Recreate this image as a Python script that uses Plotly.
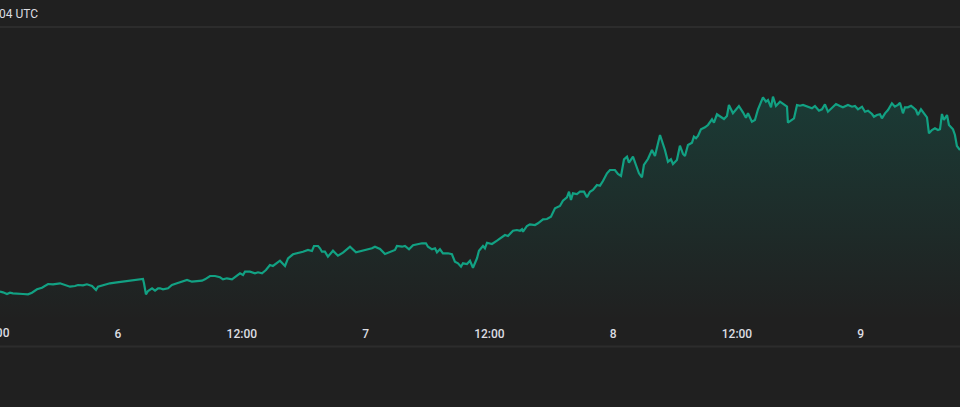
import pandas as pd
import plotly.graph_objects as go

# ---- data ----
# hours elapsed since day 5, 00:00 UTC
hours = [
    12.56, 12.85, 13.24, 13.53, 13.82, 14.31, 14.79, 15.28, 15.66, 16.15,
    16.63, 17.22, 17.70, 18.38, 18.86, 19.35, 19.83, 20.12, 20.61, 20.99,
    21.48, 21.87, 22.06, 22.55, 23.22, 23.90, 24.39, 24.87, 25.36, 25.84,
    26.42, 26.52, 26.71, 26.91, 27.30, 27.59, 27.88, 28.07, 28.36, 28.85,
    29.23, 29.72, 30.20, 30.69, 31.17, 31.66, 32.14, 32.43, 32.92, 33.40,
    33.89, 34.18, 34.56, 35.05, 35.53, 35.83, 36.12, 36.31, 36.79, 37.28,
    37.57, 37.96, 38.34, 38.73, 39.02, 39.41, 39.70, 40.19, 40.48, 40.96,
    41.45, 41.93, 42.42, 42.80, 43.00, 43.39, 43.58, 43.77, 44.06, 44.35,
    44.84, 45.32, 45.81, 46.49, 47.07, 47.65, 48.14, 48.62, 48.91, 49.40,
    49.88, 50.36, 50.85, 51.04, 51.53, 51.82, 52.21, 52.60, 52.98, 53.47,
    53.85, 54.05, 54.44, 54.73, 54.92, 55.21, 55.50, 55.99, 56.37, 56.66,
    56.96, 57.25, 57.44, 57.83, 58.12, 58.41, 58.80, 58.99, 59.38, 59.57,
    59.77, 60.25, 60.74, 61.22, 61.51, 61.80, 62.29, 62.67, 62.97, 63.16,
    63.26, 63.64, 63.93, 64.42, 64.71, 65.20, 65.58, 65.97, 66.36, 66.84,
    67.13, 67.52, 67.72, 67.91, 68.10, 68.49, 68.78, 69.17, 69.46, 69.75,
    70.04, 70.43, 70.72, 71.01, 71.40, 71.69, 72.17, 72.46, 72.76, 73.05,
    73.34, 73.53, 73.92, 74.21, 74.50, 74.79, 74.98, 75.37, 75.76, 76.05,
    76.54, 77.02, 77.31, 77.60, 77.80, 78.18, 78.47, 78.77, 78.96, 79.25,
    79.64, 79.83, 80.03, 80.22, 80.51, 80.90, 81.19, 81.58, 81.77, 82.06,
    82.45, 82.74, 83.03, 83.22, 83.61, 83.90, 84.19, 84.58, 84.87, 85.07,
    85.45, 85.74, 86.04, 86.52, 86.81, 87.01, 87.30, 87.49, 87.78, 88.17,
    88.46, 88.85, 88.94, 89.33, 89.53, 89.82, 90.11, 90.40, 90.88, 91.27,
    91.56, 91.95, 92.24, 92.53, 92.82, 93.21, 93.60, 93.98, 94.27, 94.76,
    95.15, 95.44, 95.73, 96.12, 96.41, 96.70, 97.09, 97.28, 97.57, 97.86,
    98.05, 98.35, 98.64, 99.02, 99.31, 99.60, 99.80, 100.09, 100.28, 100.57,
    100.87, 101.06, 101.35, 101.54, 101.84, 102.13, 102.42, 102.61, 102.90, 103.19,
    103.48, 103.68, 103.87, 104.06, 104.36, 104.55, 104.94, 105.13, 105.32, 105.62,
]
values = [
    28.3, 27.7, 26.0, 27.3, 26.7, 26.7, 26.0, 25.7, 27.3, 30.7,
    32.3, 36.0, 35.7, 36.7, 35.3, 33.3, 34.0, 35.0, 34.7, 35.7,
    34.0, 30.0, 33.3, 35.0, 36.7, 37.7, 38.3, 39.0, 39.3, 40.0,
    41.0, 36.7, 25.7, 29.0, 31.7, 29.3, 31.7, 31.7, 30.7, 31.7,
    35.0, 36.7, 38.3, 40.0, 38.3, 39.0, 39.3, 40.7, 44.0, 44.0,
    42.7, 40.7, 41.7, 40.7, 44.0, 46.7, 45.0, 48.3, 48.3, 46.7,
    47.7, 46.7, 50.0, 55.0, 54.0, 56.7, 59.3, 54.0, 61.7, 65.7,
    66.7, 68.3, 70.0, 69.0, 74.0, 74.0, 71.7, 68.3, 68.3, 63.3,
    69.3, 64.3, 67.3, 73.3, 67.7, 69.0, 70.7, 71.7, 73.3, 71.0,
    66.0, 67.7, 70.0, 74.0, 73.3, 74.0, 70.7, 74.7, 75.7, 76.7,
    76.7, 73.3, 70.7, 71.7, 67.7, 70.7, 66.7, 66.7, 65.7, 58.3,
    56.7, 53.3, 56.7, 56.0, 59.3, 52.3, 61.7, 69.3, 74.0, 71.7,
    77.3, 76.0, 79.3, 83.3, 85.0, 84.0, 89.3, 90.0, 89.3, 90.7,
    88.3, 94.0, 95.7, 95.0, 96.7, 100.7, 101.0, 103.3, 111.7, 114.0,
    119.3, 122.7, 128.3, 120.0, 126.7, 126.0, 128.3, 128.3, 122.7, 128.3,
    130.0, 135.0, 134.3, 139.0, 146.7, 150.0, 150.0, 146.0, 144.0, 160.7,
    163.3, 157.3, 163.3, 155.0, 146.7, 142.7, 155.0, 161.0, 170.0, 164.0,
    185.0, 170.0, 158.3, 160.7, 156.0, 160.0, 174.3, 166.0, 164.0, 175.0,
    177.3, 183.3, 181.7, 184.0, 190.7, 192.7, 195.0, 200.7, 197.3, 205.7,
    203.3, 201.0, 204.0, 215.0, 206.7, 210.7, 214.0, 207.7, 202.3, 206.7,
    198.3, 200.0, 210.7, 222.7, 218.3, 220.0, 212.7, 223.3, 214.0, 218.3,
    216.0, 213.3, 197.3, 200.7, 201.7, 215.0, 214.3, 215.0, 213.3, 211.7,
    214.0, 209.3, 210.7, 215.7, 208.3, 211.7, 216.0, 214.0, 212.7, 215.0,
    213.3, 214.0, 210.7, 213.3, 208.3, 209.3, 206.0, 203.3, 205.0, 205.7,
    201.7, 206.7, 210.0, 216.7, 213.3, 215.0, 217.3, 206.7, 212.7, 212.7,
    214.3, 212.7, 210.0, 205.0, 210.7, 206.7, 202.7, 186.7, 190.0, 191.7,
    190.0, 190.7, 206.0, 200.0, 205.0, 195.0, 190.7, 185.0, 174.0, 170.0,
]

day5 = pd.Timestamp("2024-01-05 00:00")
tick_hours = [12, 24, 36, 48, 60, 72, 84, 96]
tick_labels = ["12:00", "6", "12:00", "7", "12:00", "8", "12:00", "9"]
title_text = "04 UTC"

# ---- styling ----
BG = "#202020"
LINE = "#12a183"
TEXT = "#dcdde2"
SEP = "#2c2c2c"

times = [day5 + pd.Timedelta(hours=h) for h in hours]
tick_times = [day5 + pd.Timedelta(hours=h) for h in tick_hours]

x_start_h, x_end_h = 12.562, 105.62
x_range = [day5 + pd.Timedelta(hours=x_start_h), day5 + pd.Timedelta(hours=x_end_h)]

W, H = 960, 407
M_T, M_B = 28, 87
plot_h = H - M_T - M_B

fig = go.Figure()
fig.add_trace(go.Scatter(
    x=times, y=values, mode="lines",
    line=dict(color=LINE, width=2.2),
    fill="tozeroy",
    fillgradient=dict(
        type="vertical",
        start=0, stop=max(values),
        colorscale=[[0, "rgba(8,153,129,0.0)"], [1, "rgba(8,153,129,0.22)"]],
    ),
    hoverinfo="skip",
))

fig.update_layout(
    width=W, height=H,
    margin=dict(l=0, r=0, t=M_T, b=M_B),
    paper_bgcolor=BG, plot_bgcolor=BG,
    showlegend=False,
    font=dict(family="Roboto", color=TEXT, size=12),
    xaxis=dict(
        range=x_range, showgrid=False, zeroline=False, showline=False,
        tickmode="array", tickvals=tick_times, ticktext=tick_labels,
        ticks="", tickfont=dict(size=12, color=TEXT, weight=500),
        ticklabelstandoff=5,
        fixedrange=True,
    ),
    yaxis=dict(
        range=[0, plot_h], visible=False, showgrid=False, zeroline=False,
        fixedrange=True,
    ),
)

# partially visible tick label left of the range
frac = (tick_hours[0] - x_start_h) / (x_end_h - x_start_h)
fig.add_annotation(
    x=frac, y=0, xref="paper", yref="paper", yanchor="top", xanchor="center",
    yshift=-4, text=tick_labels[0], showarrow=False,
    font=dict(size=12, color=TEXT, weight=500),
)

# header text (cut at the left edge)
fig.add_annotation(
    x=-3 / W, y=1 + 14 / plot_h, xref="paper", yref="paper",
    xanchor="left", yanchor="middle", text=title_text, showarrow=False,
    font=dict(size=12, color=TEXT),
)

# separators
fig.add_shape(type="line", xref="paper", yref="paper", x0=0, x1=1,
              y0=1 + 1 / plot_h, y1=1 + 1 / plot_h, line=dict(color=SEP, width=2))
yb = -(346.5 - (H - M_B)) / plot_h
fig.add_shape(type="line", xref="paper", yref="paper", x0=0, x1=1,
              y0=yb, y1=yb, line=dict(color=SEP, width=2))

fig.write_html("out.html")
